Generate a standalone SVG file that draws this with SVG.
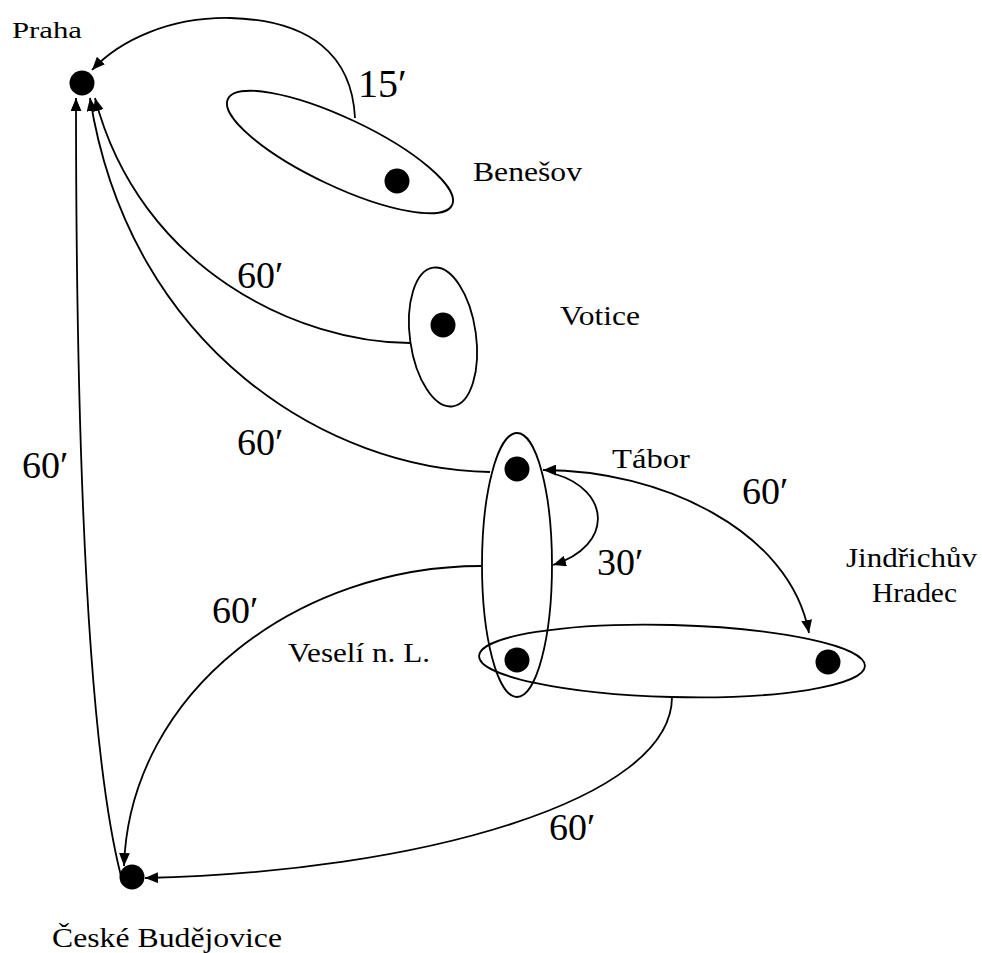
<svg xmlns="http://www.w3.org/2000/svg" width="982" height="953" viewBox="0 0 982 953">
<defs>
<marker id="arr" viewBox="0 0 12 10" refX="12" refY="5" markerWidth="13" markerHeight="11" markerUnits="userSpaceOnUse" orient="auto-start-reverse">
<path d="M0,0 L12,5 L0,10 z" fill="#000"/>
</marker>
<style>
.edge{fill:none;stroke:#000;stroke-width:1.8}
.zone{fill:none;stroke:#000;stroke-width:1.8}
.dot{fill:#000}
</style>
</defs>
<rect width="982" height="953" fill="#fff"/>

<g id="zones">
<ellipse class="zone" cx="340" cy="152" rx="124" ry="34" transform="rotate(25.3 340 152)"/>
<ellipse class="zone" cx="443" cy="337" rx="33" ry="70" transform="rotate(-8 443 337)"/>
<ellipse class="zone" cx="517" cy="565" rx="35" ry="132"/>
<ellipse class="zone" cx="672" cy="661" rx="193" ry="36" transform="rotate(1.5 672 661)"/>
</g>

<g id="connectors">
<path class="edge" d="M355,118 C352,55 310,20 230,18 C170,17 120,40 92,70" marker-end="url(#arr)"/>
<path class="edge" d="M410,343 C300,343 140,270 95,98" marker-end="url(#arr)"/>
<path class="edge" d="M490,472 C330,470 130,350 90,98" marker-end="url(#arr)"/>
<path class="edge" d="M121,876 Q76,700 76,98" marker-end="url(#arr)"/>
<path class="edge" d="M481,566 C300,566 130,690 124,866" marker-end="url(#arr)"/>
<path class="edge" d="M672,697 C672,800 420,872 145,878" marker-end="url(#arr)"/>
<path class="edge" d="M543,470 C660,470 790,530 809,633" marker-start="url(#arr)" marker-end="url(#arr)"/>
<path class="edge" d="M555,474 C610,490 615,545 553,565" marker-end="url(#arr)"/>
<g font-family="Liberation Serif, DejaVu Serif, serif" font-size="38" fill="#000">
<text x="358" y="97" font-size="40">15′</text>
<text x="237" y="288">60′</text>
<text x="237" y="455">60′</text>
<text x="22" y="478">60′</text>
<text x="597" y="575">30′</text>
<text x="742" y="504">60′</text>
<text x="212" y="623">60′</text>
<text x="549" y="840">60′</text>
</g>
</g>

<g font-family="Liberation Serif, DejaVu Serif, serif" font-size="27" fill="#000">
<g id="praha">
<circle class="dot" cx="82" cy="83" r="12.5"/>
<text x="12" y="38" font-size="23" textLength="70" lengthAdjust="spacingAndGlyphs">Praha</text>
</g>
<g id="benesov">
<circle class="dot" cx="397" cy="181" r="12.5"/>
<text x="473" y="181" textLength="109" lengthAdjust="spacingAndGlyphs">Benešov</text>
</g>
<g id="votice">
<circle class="dot" cx="443" cy="325" r="12.5"/>
<text x="560" y="325" textLength="80" lengthAdjust="spacingAndGlyphs">Votice</text>
</g>
<g id="tabor">
<circle class="dot" cx="517" cy="469" r="12.5"/>
<text x="612" y="468" textLength="78" lengthAdjust="spacingAndGlyphs">Tábor</text>
</g>
<g id="veseli">
<circle class="dot" cx="517" cy="660" r="12.5"/>
<text x="288" y="662" textLength="142" lengthAdjust="spacingAndGlyphs">Veselí n. L.</text>
</g>
<g id="jindrichuv-hradec">
<circle class="dot" cx="828" cy="662" r="12.5"/>
<text x="846" y="567" textLength="131" lengthAdjust="spacingAndGlyphs">Jindřichův</text>
<text x="872" y="602" textLength="85" lengthAdjust="spacingAndGlyphs">Hradec</text>
</g>
<g id="ceske-budejovice">
<circle class="dot" cx="132" cy="877" r="12.5"/>
<text x="52" y="947" textLength="230" lengthAdjust="spacingAndGlyphs">České Budějovice</text>
</g>
</g>
</svg>
